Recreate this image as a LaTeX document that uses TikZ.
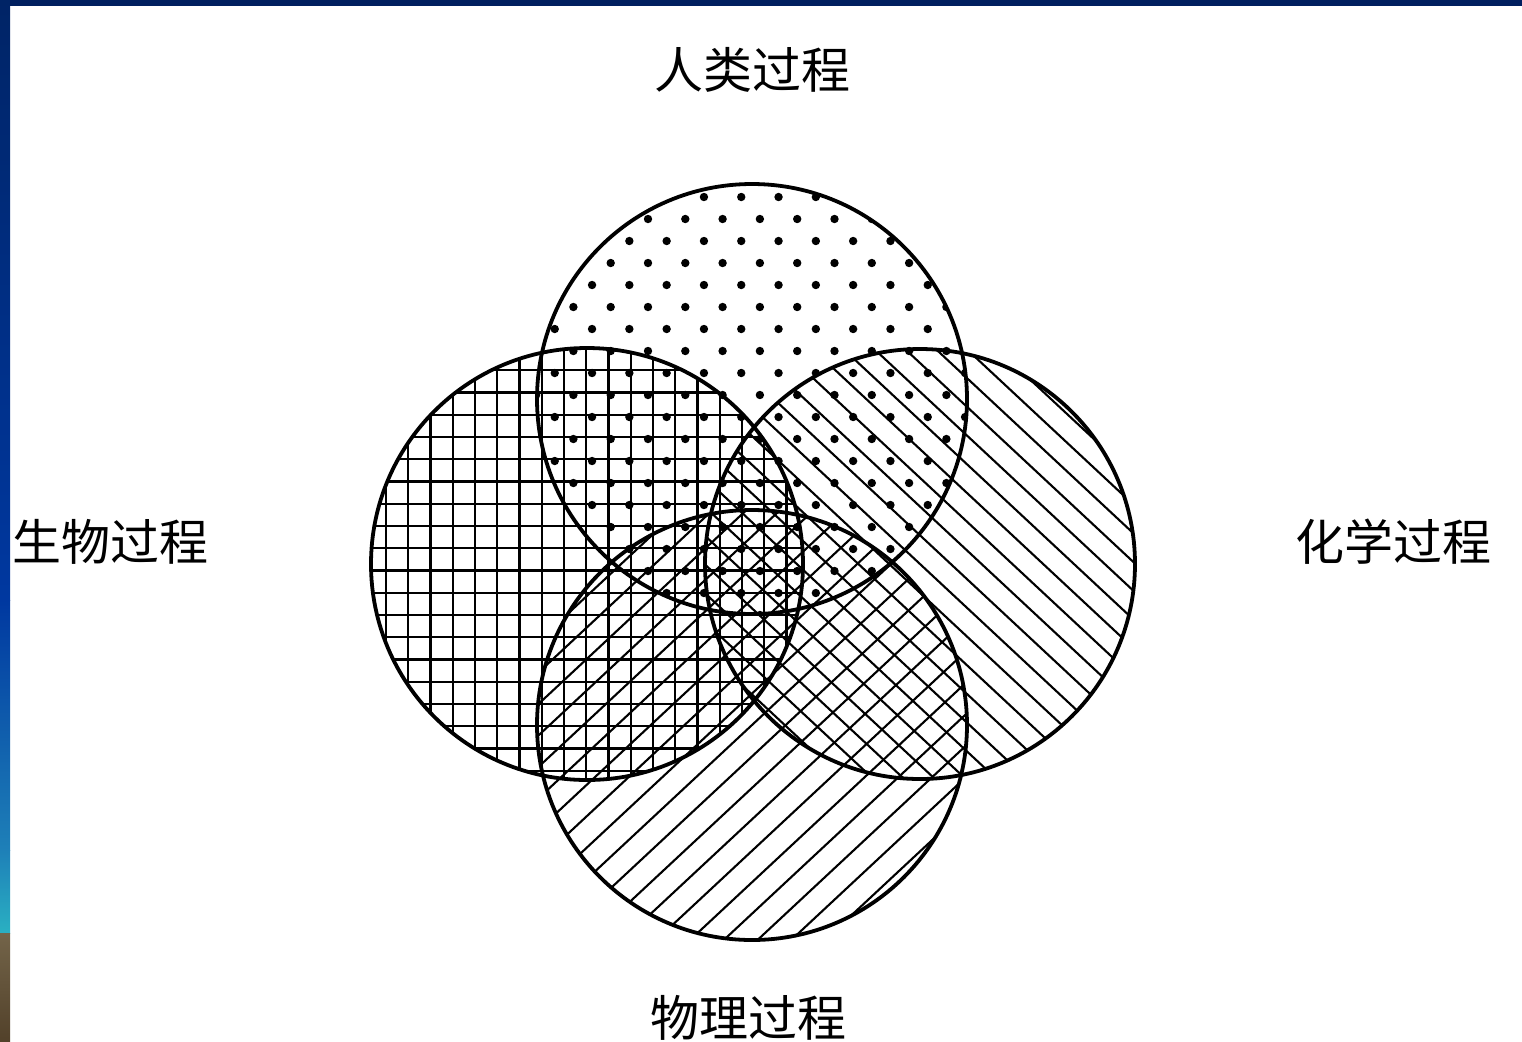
\documentclass[tikz,border=0pt]{standalone}
\usepackage{fontspec}
\newfontfamily\cjk{Noto Sans CJK SC}
\definecolor{navy}{HTML}{001F5F}
\definecolor{bandA}{HTML}{002466}
\definecolor{bandB}{HTML}{0038A0}
\definecolor{bandC}{HTML}{1E80B8}
\definecolor{bandD}{HTML}{2AB0C2}
\definecolor{brownA}{HTML}{736449}
\definecolor{brownB}{HTML}{52412A}
\begin{document}
\begin{tikzpicture}[x=0.5pt,y=-0.5pt,
  ring/.style={line width=1.9pt},
  hatch/.style={line width=1.05pt},
  lbl/.style={font=\cjk\fontsize{24.5}{24.5}\selectfont, inner sep=0pt}]
\useasboundingbox (0,0) rectangle (1522,1041);
\fill[white] (0,0) rectangle (1522,1041);
% frame
\fill[navy] (0,0) rectangle (1522,6);
\shade[top color=bandA, bottom color=bandB] (0,0) rectangle (10,600);
\shade[top color=bandB, bottom color=bandC] (0,600) rectangle (10,850);
\shade[top color=bandC, bottom color=bandD] (0,850) rectangle (10,933);
\shade[top color=brownA, bottom color=brownB] (0,933) rectangle (10,1041);
% circle centres
\coordinate (cT) at (752,399);
\coordinate (cL) at (587,564);
\coordinate (cR) at (920,564);
\coordinate (cB) at (752,725);
% top circle: dots
\begin{scope}
  \clip (cT) circle[radius=107.5pt];
  \foreach \j in {0,...,20}{
    \foreach \i in {-4,...,10}{
      \pgfmathsetmacro{\xx}{648+37.3*\i+18.65*mod(\j,2)}
      \pgfmathsetmacro{\yy}{175+22*\j}
      \fill (\xx,\yy) circle[radius=2.1pt];
    }
  }
\end{scope}
% left circle: grid
\begin{scope}
  \clip (cL) circle[radius=108pt];
  \foreach \k in {-1,...,20}{
    \draw[hatch] ({386+22.25*(\k-1)},340) -- ({386+22.25*(\k-1)},790);
    \draw[hatch] (360,{526+22.25*(\k-9)}) -- (810,{526+22.25*(\k-9)});
  }
\end{scope}
% right circle: descending lines
\begin{scope}
  \clip (cR) circle[radius=107.5pt];
  \begin{scope}[shift={(cR)}, rotate=-43]
    \foreach \k in {-12,...,12}{
      \draw[hatch] (-320,{21*\k}) -- (320,{21*\k});
    }
  \end{scope}
\end{scope}
% bottom circle: ascending lines
\begin{scope}
  \clip (cB) circle[radius=107.5pt];
  \begin{scope}[shift={(cB)}, rotate=43]
    \foreach \k in {-12,...,12}{
      \draw[hatch] (-320,{23*\k}) -- (320,{23*\k});
    }
  \end{scope}
\end{scope}
% outlines
\draw[ring] (cT) circle[radius=107.5pt];
\draw[ring] (cL) circle[radius=108pt];
\draw[ring] (cR) circle[radius=107.5pt];
\draw[ring] (cB) circle[radius=107.5pt];
% labels
\node[lbl] (human) at (752,70) {人类过程};
\node[lbl] (bio) at (110,542) {生物过程};
\node[lbl] (chem) at (1393,542) {化学过程};
\node[lbl] (phys) at (748,1018) {物理过程};
\end{tikzpicture}
\end{document}
